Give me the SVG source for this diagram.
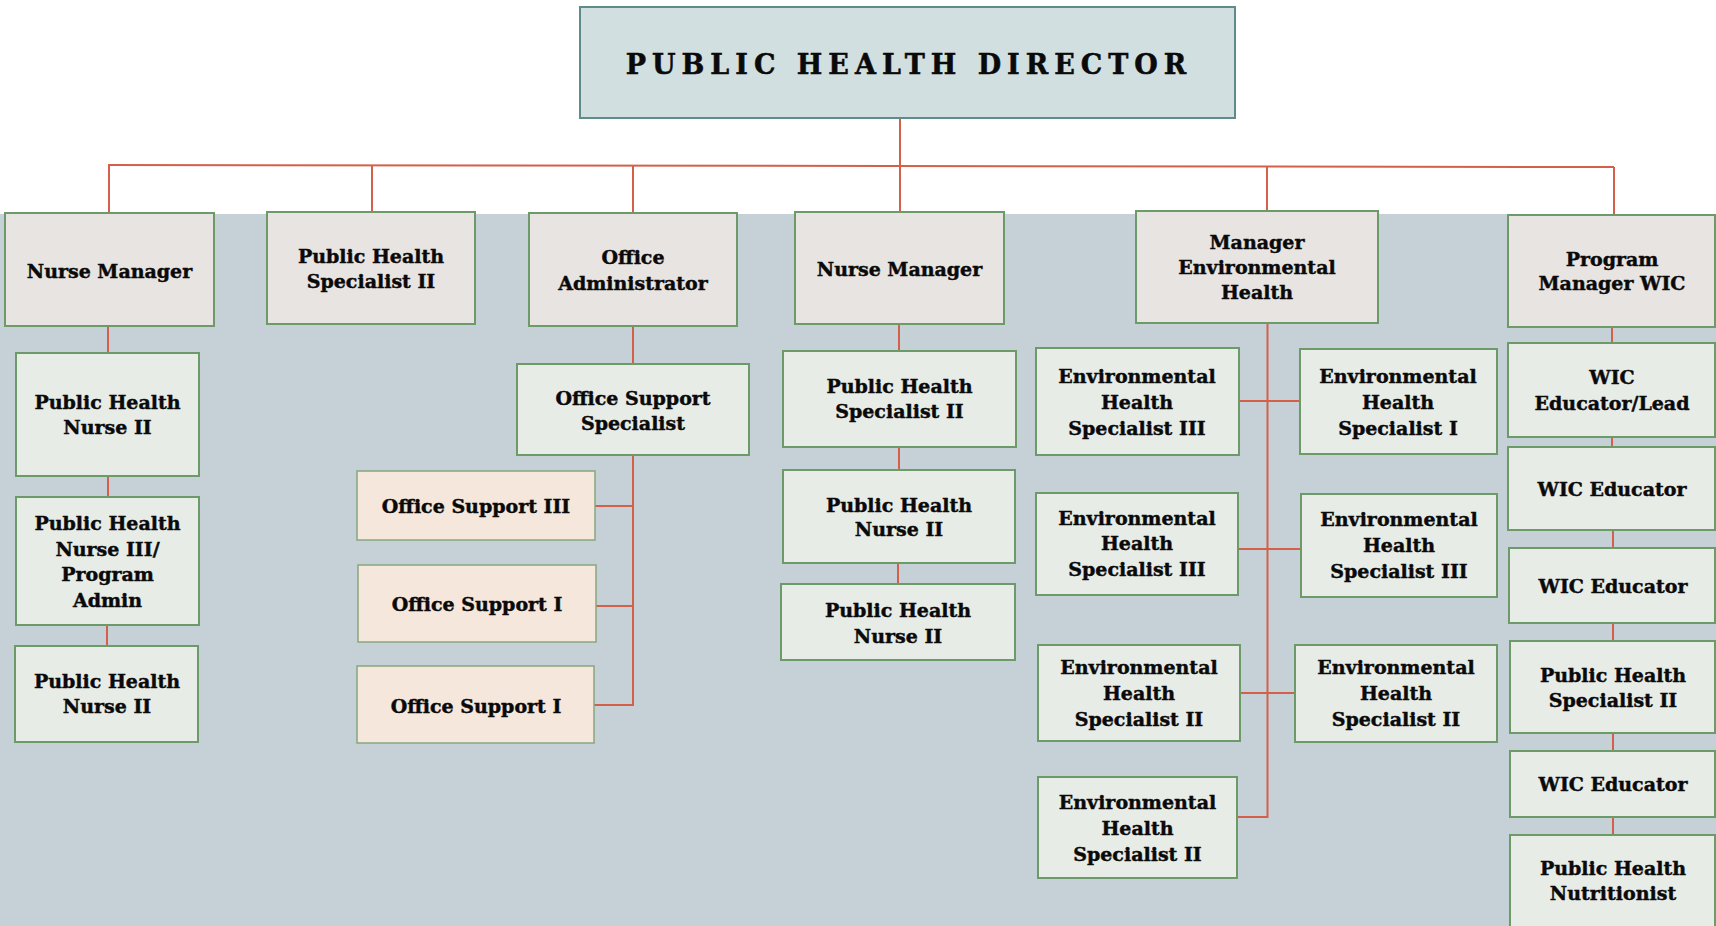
<svg xmlns="http://www.w3.org/2000/svg" width="1716" height="926" viewBox="0 0 1716 926">
<style>
.t{font-family:"DejaVu Serif","Liberation Serif",serif;font-weight:bold;font-size:19px;fill:#0a0a0a;stroke:#0a0a0a;stroke-width:0.45;text-anchor:middle}
.m{fill:#e8e4e1;stroke:#6c9a69;stroke-width:2}
.c{fill:#e8ece7;stroke:#6c9a69;stroke-width:2}
.p{fill:#f5e7db;stroke:#86a77e;stroke-width:1.5}
.k{stroke:#d4604a;stroke-width:2;fill:none}
</style>
<rect x="0" y="214" width="1716" height="712" fill="#c5d0d7"/>
<g id="connectors">
<path class="k" d="M108,165 L1614,167"/>
<path class="k" d="M109,165 V213 M372,165 V212 M633,165 V213 M900,118 V212 M1267,166 V211 M1614,167 V215"/>
<path class="k" d="M108,326 V353 M108,476 V497 M107,625 V646"/>
<path class="k" d="M633,326 V364 M633,455 V705 H594 M595,506 H633 M596,606 H633"/>
<path class="k" d="M899,324 V351 M899,447 V470 M898,563 V584"/>
<path class="k" d="M1267.5,323 V817 H1237 M1239,401 H1300 M1238,549 H1301 M1240,693 H1295"/>
<path class="k" d="M1612,327 V343 M1612,437 V447 M1613,530 V548 M1613,623 V641 M1613,733 V751 M1613,817 V835"/>
</g>
<g id="director">
<rect x="580" y="7" width="655" height="111" fill="#d1dfe0" stroke="#5f8b8b" stroke-width="2"/>
<text x="909" y="74" style="font-family:'DejaVu Serif','Liberation Serif',serif;font-weight:bold;font-size:27px;fill:#0a0a0a;stroke:#0a0a0a;stroke-width:0.5;text-anchor:middle;letter-spacing:6px">PUBLIC HEALTH DIRECTOR</text>
</g>
<g id="nurse-manager-1"><rect class="m" x="5" y="213" width="209" height="113"/><text class="t" x="109.5" y="278">Nurse Manager</text></g>
<g id="phs-top"><rect class="m" x="267" y="212" width="208" height="112"/><text class="t" x="371" y="263">Public Health</text><text class="t" x="371" y="288">Specialist II</text></g>
<g id="office-admin"><rect class="m" x="529" y="213" width="208" height="113"/><text class="t" x="633" y="264">Office</text><text class="t" x="633" y="290">Administrator</text></g>
<g id="nurse-manager-2"><rect class="m" x="795" y="212" width="209" height="112"/><text class="t" x="899.5" y="276">Nurse Manager</text></g>
<g id="manager-env"><rect class="m" x="1136" y="211" width="242" height="112"/><text class="t" x="1257" y="249">Manager</text><text class="t" x="1257" y="274">Environmental</text><text class="t" x="1257" y="299">Health</text></g>
<g id="pm-wic"><rect class="m" x="1508" y="215" width="207" height="112"/><text class="t" x="1612" y="266">Program</text><text class="t" x="1612" y="290">Manager WIC</text></g>
<g id="phn2-a"><rect class="c" x="16" y="353" width="183" height="123"/><text class="t" x="107.5" y="409">Public Health</text><text class="t" x="107.5" y="434">Nurse II</text></g>
<g id="phn3"><rect class="c" x="16" y="497" width="183" height="128"/><text class="t" x="107.5" y="530">Public Health</text><text class="t" x="107.5" y="556">Nurse III/</text><text class="t" x="107.5" y="581">Program</text><text class="t" x="107.5" y="607">Admin</text></g>
<g id="phn2-b"><rect class="c" x="15" y="646" width="183" height="96"/><text class="t" x="107" y="688">Public Health</text><text class="t" x="107" y="713">Nurse II</text></g>
<g id="oss"><rect class="c" x="517" y="364" width="232" height="91"/><text class="t" x="633" y="405">Office Support</text><text class="t" x="633" y="430">Specialist</text></g>
<g id="os3"><rect class="p" x="357" y="471" width="238" height="69"/><text class="t" x="476" y="513">Office Support III</text></g>
<g id="os1-a"><rect class="p" x="358" y="565" width="238" height="77"/><text class="t" x="477" y="611">Office Support I</text></g>
<g id="os1-b"><rect class="p" x="357" y="666" width="237" height="77"/><text class="t" x="476" y="713">Office Support I</text></g>
<g id="phs-mid"><rect class="c" x="783" y="351" width="233" height="96"/><text class="t" x="899.5" y="393">Public Health</text><text class="t" x="899.5" y="418">Specialist II</text></g>
<g id="phn2-c"><rect class="c" x="783" y="470" width="232" height="93"/><text class="t" x="899" y="512">Public Health</text><text class="t" x="899" y="536">Nurse II</text></g>
<g id="phn2-d"><rect class="c" x="781" y="584" width="234" height="76"/><text class="t" x="898" y="617">Public Health</text><text class="t" x="898" y="643">Nurse II</text></g>
<g id="ehs3-l1"><rect class="c" x="1036" y="348" width="203" height="107"/><text class="t" x="1137" y="383">Environmental</text><text class="t" x="1137" y="409">Health</text><text class="t" x="1137" y="435">Specialist III</text></g>
<g id="ehs1-r1"><rect class="c" x="1300" y="349" width="197" height="105"/><text class="t" x="1398" y="383">Environmental</text><text class="t" x="1398" y="409">Health</text><text class="t" x="1398" y="435">Specialist I</text></g>
<g id="ehs3-l2"><rect class="c" x="1036" y="493" width="202" height="102"/><text class="t" x="1137" y="525">Environmental</text><text class="t" x="1137" y="550">Health</text><text class="t" x="1137" y="576">Specialist III</text></g>
<g id="ehs3-r2"><rect class="c" x="1301" y="494" width="196" height="103"/><text class="t" x="1399" y="526">Environmental</text><text class="t" x="1399" y="552">Health</text><text class="t" x="1399" y="578">Specialist III</text></g>
<g id="ehs2-l3"><rect class="c" x="1038" y="645" width="202" height="96"/><text class="t" x="1139" y="674">Environmental</text><text class="t" x="1139" y="700">Health</text><text class="t" x="1139" y="726">Specialist II</text></g>
<g id="ehs2-r3"><rect class="c" x="1295" y="645" width="202" height="97"/><text class="t" x="1396" y="674">Environmental</text><text class="t" x="1396" y="700">Health</text><text class="t" x="1396" y="726">Specialist II</text></g>
<g id="ehs2-l4"><rect class="c" x="1038" y="777" width="199" height="101"/><text class="t" x="1137.5" y="809">Environmental</text><text class="t" x="1137.5" y="835">Health</text><text class="t" x="1137.5" y="861">Specialist II</text></g>
<g id="wic-lead"><rect class="c" x="1508" y="343" width="207" height="94"/><text class="t" x="1612" y="384">WIC</text><text class="t" x="1612" y="410">Educator/Lead</text></g>
<g id="wic-ed1"><rect class="c" x="1508" y="447" width="207" height="83"/><text class="t" x="1612" y="496">WIC Educator</text></g>
<g id="wic-ed2"><rect class="c" x="1509" y="548" width="206" height="75"/><text class="t" x="1613" y="593">WIC Educator</text></g>
<g id="phs-wic"><rect class="c" x="1510" y="641" width="205" height="92"/><text class="t" x="1613" y="682">Public Health</text><text class="t" x="1613" y="707">Specialist II</text></g>
<g id="wic-ed3"><rect class="c" x="1510" y="751" width="205" height="66"/><text class="t" x="1613" y="791">WIC Educator</text></g>
<g id="ph-nutritionist"><rect class="c" x="1510" y="835" width="205" height="100"/><text class="t" x="1613" y="875">Public Health</text><text class="t" x="1613" y="900">Nutritionist</text></g>
</svg>
